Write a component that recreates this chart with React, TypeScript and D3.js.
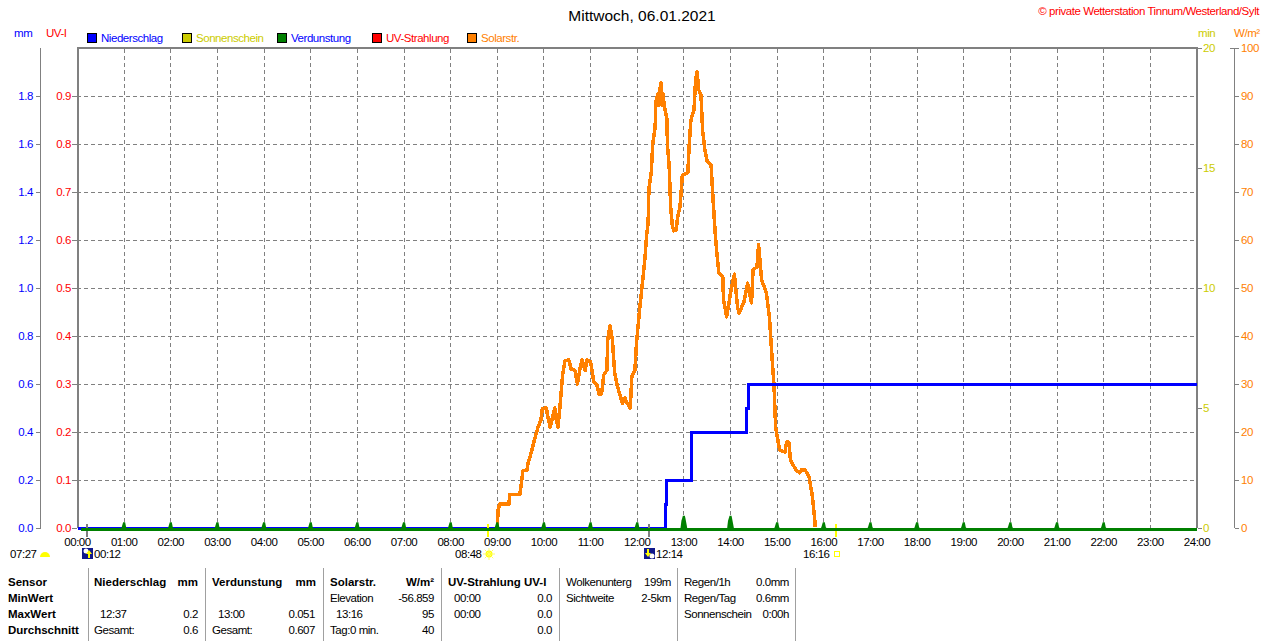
import React from "react";
import * as d3 from "d3";

const hourLabels = ["00:00","01:00","02:00","03:00","04:00","05:00","06:00","07:00","08:00","09:00","10:00","11:00","12:00","13:00","14:00","15:00","16:00","17:00","18:00","19:00","20:00","21:00","22:00","23:00","24:00"];
const mmTicks = [0,0.2,0.4,0.6,0.8,1.0,1.2,1.4,1.6,1.8];
const uvTicks = [0,0.1,0.2,0.3,0.4,0.5,0.6,0.7,0.8,0.9];
const minTicks = [0,5,10,15,20];
const wattTicks = [0,10,20,30,40,50,60,70,80,90,100];

// Solar radiation: minute of day, W/m²
const solarMinutes = [540,541,543,555,556,569,571,573,578,580,584,588,592,596,598,603,605,608,611,614,615,618,621,624,627,632,635,640,643,646,649,653,655,660,664,668,671,674,677,681,682,685,688,691,694,697,701,704,707,711,713,717,719,723,730,732,734,735,738,740,743,744,747,748,750,751,752,753,755,758,759,761,763,765,767,770,772,775,778,785,787,789,793,795,797,799,802,804,807,810,815,817,820,822,825,830,831,835,840,845,846,849,851,857,862,867,869,874,876,877,880,886,890,893,896,898,903,910,912,915,917,924,929,931,936,941,945,948,949];
const solarValues = [0.3,3.8,5,5,7,7,9.4,12,12,13.8,15.9,18.5,20.8,22.5,24.9,25,23.2,21,23,25,23.1,21,26,31.9,34.9,35,33.1,32.8,30,32.9,35,32.8,35,34.6,30.5,29.8,27.9,27.9,31.9,32.9,39.2,42.1,39.2,32.3,29.8,28.1,26,27.1,26,25,31.5,32.9,38.5,45.4,56.3,61,63.5,70.8,74,80.2,83.5,88.8,90.6,88,92.7,92.7,88,90.6,87.7,85.4,79.4,75.6,66.9,63.1,61.9,62.1,64.8,66.9,73.5,74,80.2,85,87.1,93.3,95,91.3,90.2,82.9,78.8,76.3,75.6,69.8,62.1,57.9,53.1,52.3,47.5,44,49,52.9,51,46,44.8,47,51,46.9,53.8,54.4,59,57.3,51.7,49,44,36.5,29.4,21,16.3,15.8,17.9,17.9,14.2,12.1,11.5,12.1,12.1,10.6,6.9,2.3,0.2];

// Precipitation, cumulative mm
const rainMinutes = [0,756,756,758,758,790,790,861,861,863,863,1440];
const rainValues = [0,0,0.1,0.1,0.2,0.2,0.4,0.4,0.5,0.5,0.6,0.6];

// Evaporation: peak per hour, mm
const evapHours = [1,2,3,4,5,6,7,8,9,10,11,12,13,14,15,16,17,18,19,20,21,22];
const evapPeaks = [0.024,0.024,0.024,0.024,0.024,0.024,0.024,0.024,0.024,0.024,0.024,0.024,0.051,0.051,0.024,0.024,0.024,0.024,0.024,0.024,0.024,0.024];

const legendNames = ["Niederschlag","Sonnenschein","Verdunstung","UV-Strahlung","Solarstr."];
const legendBox = ["#0000ff","#cccc00","#008000","#ff0000","#ff8000"];
const legendText = ["#0000ff","#cccc00","#0000ff","#ff0000","#ff8000"];

const tableRowLabels = ["Sensor","MinWert","MaxWert","Durchschnitt"];
const tableText: [number,number,string,boolean,string][] = [
  [94,582,"Niederschlag",true,"start"],[198,582,"mm",true,"end"],
  [100,614,"12:37",false,"start"],[198,614,"0.2",false,"end"],
  [94,630,"Gesamt:",false,"start"],[198,630,"0.6",false,"end"],
  [212,582,"Verdunstung",true,"start"],[316,582,"mm",true,"end"],
  [218,614,"13:00",false,"start"],[315,614,"0.051",false,"end"],
  [212,630,"Gesamt:",false,"start"],[315,630,"0.607",false,"end"],
  [330,582,"Solarstr.",true,"start"],[434,582,"W/m²",true,"end"],
  [330,598,"Elevation",false,"start"],[434,598,"-56.859",false,"end"],
  [336,614,"13:16",false,"start"],[434,614,"95",false,"end"],
  [330,630,"Tag:0 min.",false,"start"],[434,630,"40",false,"end"],
  [448,582,"UV-Strahlung UV-I",true,"start"],
  [454,598,"00:00",false,"start"],[552,598,"0.0",false,"end"],
  [454,614,"00:00",false,"start"],[552,614,"0.0",false,"end"],
  [552,630,"0.0",false,"end"],
  [566,582,"Wolkenunterg",false,"start"],[671,582,"199m",false,"end"],
  [566,598,"Sichtweite",false,"start"],[671,598,"2-5km",false,"end"],
  [684,582,"Regen/1h",false,"start"],[789,582,"0.0mm",false,"end"],
  [684,598,"Regen/Tag",false,"start"],[789,598,"0.6mm",false,"end"],
  [684,614,"Sonnenschein",false,"start"],[789,614,"0:00h",false,"end"],
];
const tableSeparators = [88,205,323,441,559,677,795];

const FONT = "'Liberation Sans', Arial, sans-serif";
const GRAY = "#808080";

const x = d3.scaleLinear().domain([0,1440]).range([77.5,1197]);
const yMm = d3.scaleLinear().domain([0,2]).range([528,48]);
const yUv = d3.scaleLinear().domain([0,1]).range([528,48]);
const yMin = d3.scaleLinear().domain([0,20]).range([528,48]);
const yW = d3.scaleLinear().domain([0,100]).range([528,48]);

const solarLine = d3.line<number>().x((m)=>x(m)).y((_,i)=>yW(solarValues[i]));
const rainLine = d3.line<number>().x((m)=>x(m)).y((_,i)=>yMm(rainValues[i]));

const Txt = ({x:px,y:py,fill="#000",anchor="start",size=11.5,bold=false,spacing,children}:any)=>(
  <text x={px} y={py} fill={fill} textAnchor={anchor} fontSize={size} fontWeight={bold?"bold":"normal"} fontFamily={FONT} letterSpacing={spacing ?? (bold?0:-0.45)} dominantBaseline="central">{children}</text>
);

export default function App(){
  return (
    <svg width={1280} height={641} style={{position:"absolute",left:0,top:0,background:"#fff"}}>
      <Txt x={642} y={15} anchor="middle" size={15.5} spacing={0}>Mittwoch, 06.01.2021</Txt>
      <Txt x={1259} y={11} anchor="end" fill="#ff0000">© private Wetterstation Tinnum/Westerland/Sylt</Txt>

      <Txt x={14} y={33} fill="#0000ff">mm</Txt>
      <Txt x={46} y={33} fill="#ff0000">UV-I</Txt>
      <Txt x={1198} y={33} fill="#cccc00">min</Txt>
      <Txt x={1234} y={33} fill="#ff8000">W/m²</Txt>

      {legendNames.map((n,i)=>(
        <g key={n}>
          <rect x={87.5+95*i} y={33.5} width={9} height={9} fill={legendBox[i]} stroke="#000"/>
          <Txt x={101+95*i} y={38} fill={legendText[i]}>{n}</Txt>
        </g>
      ))}

      {/* grid */}
      <g stroke={GRAY} strokeDasharray="4 3" shapeRendering="crispEdges">
        {mmTicks.slice(1).map(t=><line key={t} x1={77} x2={1197} y1={yMm(t)} y2={yMm(t)}/>)}
        {hourLabels.slice(1,24).map((_,i)=><line key={i} x1={x((i+1)*60)} x2={x((i+1)*60)} y1={49} y2={532}/>)}
      </g>

      {/* frame */}
      <path d={`M${x(0)},528V48H${x(1440)}V528`} fill="none" stroke={GRAY} strokeWidth={2} shapeRendering="crispEdges"/>

      {/* left axes */}
      <line x1={40.5} x2={40.5} y1={48} y2={528} stroke={GRAY} shapeRendering="crispEdges"/>
      {mmTicks.map(t=>(
        <g key={t}>
          <line x1={36} x2={41} y1={yMm(t)} y2={yMm(t)} stroke={GRAY} shapeRendering="crispEdges"/>
          <Txt x={33} y={yMm(t)} anchor="end" fill="#0000ff">{t.toFixed(1)}</Txt>
        </g>
      ))}
      {uvTicks.map(t=>(
        <g key={t}>
          <line x1={72} x2={77} y1={yUv(t)} y2={yUv(t)} stroke={GRAY} shapeRendering="crispEdges"/>
          <Txt x={71} y={yUv(t)} anchor="end" fill="#ff0000">{t.toFixed(1)}</Txt>
        </g>
      ))}

      {/* right axes */}
      {minTicks.map(t=>(
        <g key={t}>
          <line x1={1198} x2={1202} y1={yMin(t)} y2={yMin(t)} stroke={GRAY} shapeRendering="crispEdges"/>
          <Txt x={1203} y={yMin(t)} fill="#cccc00">{t}</Txt>
        </g>
      ))}
      <line x1={1234.5} x2={1234.5} y1={48} y2={528} stroke={GRAY} shapeRendering="crispEdges"/>
      <line x1={1230} x2={1234} y1={48} y2={48} stroke={GRAY} shapeRendering="crispEdges"/>
      {wattTicks.map(t=>(
        <g key={t}>
          <line x1={1235} x2={1239} y1={yW(t)} y2={yW(t)} stroke={GRAY} shapeRendering="crispEdges"/>
          <Txt x={1241} y={yW(t)} fill="#ff8000">{t}</Txt>
        </g>
      ))}

      {/* series */}
      <path d={solarLine(solarMinutes) ?? ""} fill="none" stroke="#ff8000" strokeWidth={3.5} strokeLinejoin="round" shapeRendering="crispEdges"/>
      <path d={rainLine(rainMinutes) ?? ""} fill="none" stroke="#0000ff" strokeWidth={3} shapeRendering="crispEdges"/>
      {/* sun and moon markers */}
      <rect x={487} y={524} width={2} height={13} fill="#ffff00"/>
      <rect x={835} y={524} width={2} height={13} fill="#ffff00"/>
      <rect x={86} y={524} width={2} height={13} fill={GRAY}/>
      <rect x={648} y={524} width={2} height={13} fill={GRAY}/>
      <rect x={x(4)} y={528} width={x(1440)-x(4)} height={2.5} fill="#008000" shapeRendering="crispEdges"/>
      {evapHours.map((h,i)=>{
        const cx = x(h*60);
        const top = yMm(evapPeaks[i]);
        return <path key={h} d={`M${cx-3.5},529L${cx-2.5},${top+5}L${cx-1},${top}L${cx+1},${top}L${cx+2},${top+5}L${cx+3.5},529Z`} fill="#008000"/>;
      })}

      {/* hour labels */}
      {hourLabels.map((h,i)=><Txt key={h} x={x(i*60)} y={542} anchor="middle">{h}</Txt>)}

      {/* astro row */}
      <Txt x={10} y={554}>07:27</Txt>
      <path d="M40,557a5,5 0 0 1 10,0Z" fill="#ffff00"/>
      <rect x={82} y={548} width={11} height={11} fill="#10188c"/>
      <circle cx={86} cy={551} r={2.5} fill="#fff"/>
      <path d="M89,550l3,4h-2v4h-2v-4h-2Z" fill="#ffff00"/>
      <Txt x={94} y={554}>00:12</Txt>
      <Txt x={455} y={554}>08:48</Txt>
      <circle cx={489} cy={554} r={3.5} fill="#ffff00"/>
      <g stroke="#ffff66">
        {d3.range(0,360,45).map(a=><line key={a} x1={489} y1={554} x2={489+6*Math.cos(a*Math.PI/180)} y2={554+6*Math.sin(a*Math.PI/180)}/>)}
      </g>
      <rect x={644} y={548} width={11} height={11} fill="#10188c"/>
      <circle cx={652} cy={556} r={2.5} fill="#fff"/>
      <path d="M647,549h2v4h2l-3,4l-3,-4h2Z" fill="#ffff00"/>
      <Txt x={656} y={554}>12:14</Txt>
      <Txt x={803} y={554}>16:16</Txt>
      <rect x={834.5} y={551.5} width={5} height={5} fill="none" stroke="#ffff00"/>

      {/* table */}
      {tableSeparators.map(s=><line key={s} x1={s+0.5} x2={s+0.5} y1={568} y2={641} stroke="#a0a0a0" shapeRendering="crispEdges"/>)}
      {tableRowLabels.map((l,i)=><Txt key={l} x={8} y={582+16*i} bold>{l}</Txt>)}
      {tableText.map(([px,py,t,b,a],i)=><Txt key={i} x={px} y={py} bold={b} anchor={a}>{t}</Txt>)}
    </svg>
  );
}
